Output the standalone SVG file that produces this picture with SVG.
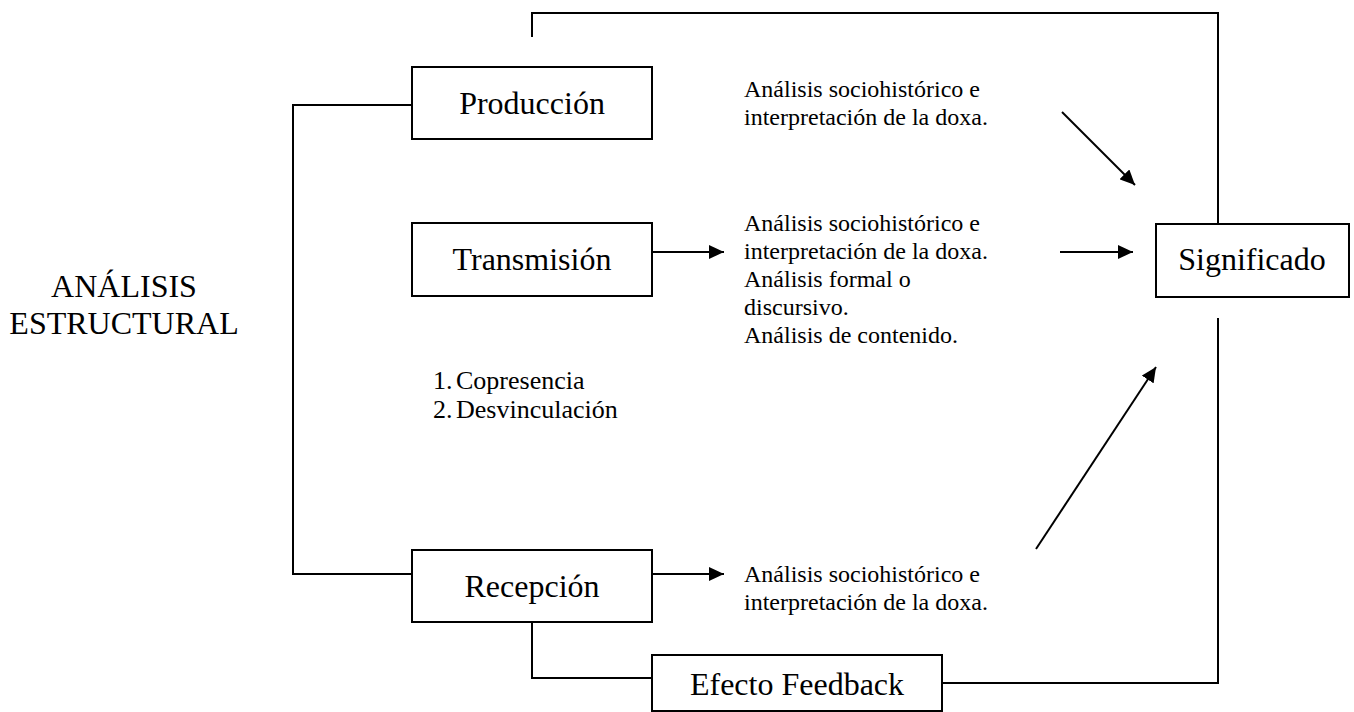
<svg xmlns="http://www.w3.org/2000/svg" width="1354" height="712" viewBox="0 0 1354 712">
<style>
.box{fill:#fff;stroke:#000;stroke-width:2}
.ln{fill:none;stroke:#000;stroke-width:2}
.big{font-family:"Liberation Serif","Times New Roman",serif;font-size:32px;fill:#000;text-anchor:middle}
.sm{font-family:"Liberation Serif","Times New Roman",serif;font-size:24px;fill:#000}
.md{font-family:"Liberation Serif","Times New Roman",serif;font-size:26px;fill:#000}
</style>
<defs>
<marker id="ah" markerUnits="userSpaceOnUse" markerWidth="16" markerHeight="14" refX="15" refY="7" orient="auto">
<path d="M0,0 L15,7 L0,14 Z" fill="#000"/>
</marker>
</defs>
<rect width="1354" height="712" fill="#fff"/>
<g id="connectors">
<polyline class="ln" points="532,37 532,13 1218,13 1218,224"/>
<polyline class="ln" points="412,105 293,105 293,574 412,574"/>
<line class="ln" x1="652" y1="252" x2="724" y2="252" marker-end="url(#ah)"/>
<line class="ln" x1="652" y1="574" x2="724" y2="574" marker-end="url(#ah)"/>
<line class="ln" x1="1060" y1="252" x2="1133" y2="252" marker-end="url(#ah)"/>
<line class="ln" x1="1062" y1="112" x2="1135" y2="185" marker-end="url(#ah)"/>
<line class="ln" x1="1036" y1="549" x2="1156" y2="367" marker-end="url(#ah)"/>
<polyline class="ln" points="532,622 532,678 652,678"/>
<polyline class="ln" points="942,683 1218,683 1218,318"/>
</g>
<g id="label-analisis">
<text class="big" x="124" y="297">ANÁLISIS</text>
<text class="big" x="124" y="334">ESTRUCTURAL</text>
</g>
<g id="node-produccion">
<rect class="box" x="412" y="67" width="240" height="72"/>
<text class="big" x="532" y="114">Producción</text>
</g>
<g id="node-transmision">
<rect class="box" x="412" y="223" width="240" height="73"/>
<text class="big" x="532" y="270">Transmisión</text>
</g>
<g id="node-recepcion">
<rect class="box" x="412" y="550" width="240" height="72"/>
<text class="big" x="532" y="597">Recepción</text>
</g>
<g id="node-efecto">
<rect class="box" x="652" y="655" width="290" height="56"/>
<text class="big" x="797" y="695">Efecto Feedback</text>
</g>
<g id="node-significado">
<rect class="box" x="1156" y="224" width="193" height="73"/>
<text class="big" x="1252" y="270">Significado</text>
</g>
<g id="text-produccion">
<text class="sm" x="744" y="97">Análisis sociohistórico e</text>
<text class="sm" x="744" y="125">interpretación de la doxa.</text>
</g>
<g id="text-transmision">
<text class="sm" x="744" y="231">Análisis sociohistórico e</text>
<text class="sm" x="744" y="259">interpretación de la doxa.</text>
<text class="sm" x="744" y="287">Análisis formal o</text>
<text class="sm" x="744" y="315">discursivo.</text>
<text class="sm" x="744" y="343">Análisis de contenido.</text>
</g>
<g id="text-recepcion">
<text class="sm" x="744" y="582">Análisis sociohistórico e</text>
<text class="sm" x="744" y="610">interpretación de la doxa.</text>
</g>
<g id="list">
<text class="md" x="433" y="389">1.</text>
<text class="md" x="456" y="389">Copresencia</text>
<text class="md" x="433" y="418">2.</text>
<text class="md" x="456" y="418">Desvinculación</text>
</g>
</svg>
